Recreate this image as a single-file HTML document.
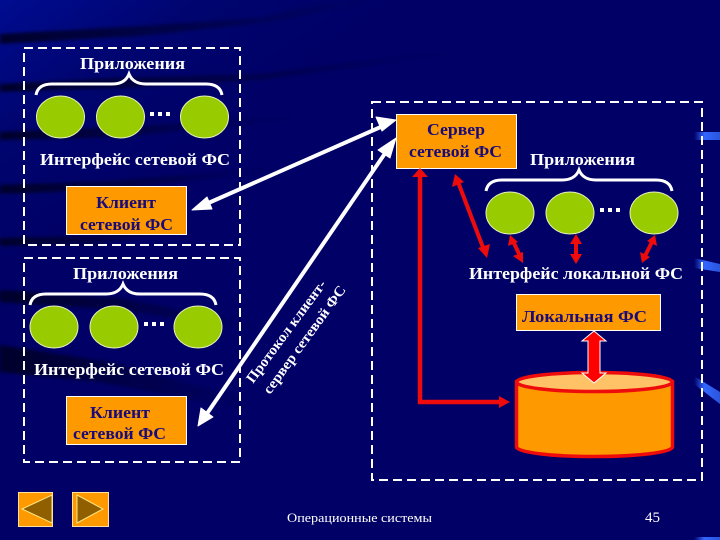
<!DOCTYPE html>
<html><head><meta charset="utf-8">
<style>html,body{margin:0;padding:0;background:#000066}svg{display:block}text{font-family:"Liberation Serif","Noto Serif CJK SC",serif}</style>
</head><body>
<svg width="720" height="540" viewBox="0 0 720 540" xmlns="http://www.w3.org/2000/svg">
<defs>
<linearGradient id="bg" x1="0" y1="0" x2="0.45" y2="0.25"><stop offset="0" stop-color="#000c90"/><stop offset="0.5" stop-color="#00046e"/><stop offset="1" stop-color="#000066"/></linearGradient>
<linearGradient id="dk" x1="0" y1="0" x2="1" y2="0"><stop offset="0" stop-color="#00002a"/><stop offset="1" stop-color="#00002a" stop-opacity="0"/></linearGradient>
<linearGradient id="bl" x1="0" y1="0" x2="1" y2="0"><stop offset="0" stop-color="#3366ff" stop-opacity="0"/><stop offset="0.4" stop-color="#3366ff"/><stop offset="1" stop-color="#2a55dd"/></linearGradient>
<filter id="b" x="-20%" y="-50%" width="140%" height="200%"><feGaussianBlur stdDeviation="1.5"/></filter>
</defs>
<rect width="720" height="540" fill="#000066"/>
<rect width="720" height="270" fill="url(#bg)"/>
<g filter="url(#b)" fill="url(#dk)">
<polygon points="0,34 0,44 140,36 270,22 380,0 340,0 260,18 140,26"/>
<polygon points="0,84 0,92 120,88 260,80 460,52 460,50 260,74 120,78"/>
<polygon points="0,132 0,140 120,137 300,118 300,116 120,127"/>
<polygon points="0,185 0,194 110,190 280,170 280,168 110,181"/>
<polygon points="0,238 0,246 90,244 200,230 200,228 90,236"/>
<polygon points="0,290 0,302 120,310 260,330 260,325 120,298"/>
<polygon points="0,345 0,372 100,382 250,410 250,400 110,362"/>
</g>
<g fill="url(#bl)">
<rect x="694" y="132" width="26" height="8"/>
<polygon points="694,258 720,264 720,272 694,268"/>
<polygon points="694,376 720,392 720,404 694,384"/>
<rect x="694" y="537" width="26" height="3"/>
</g>

<g fill="none" stroke="#fff" stroke-width="2" stroke-dasharray="9 5">
<rect x="24" y="48" width="216" height="197"/>
<rect x="24" y="258" width="216" height="204"/>
<rect x="372" y="102" width="330" height="378"/>
</g>

<g fill="#99cc00" stroke="#e8f0c0" stroke-width="1">
<ellipse cx="60.500" cy="117" rx="24" ry="21"/><ellipse cx="120.500" cy="117" rx="24" ry="21"/><ellipse cx="204.500" cy="117" rx="24" ry="21"/>
<ellipse cx="54" cy="327" rx="24" ry="21"/><ellipse cx="114" cy="327" rx="24" ry="21"/><ellipse cx="198" cy="327" rx="24" ry="21"/>
<ellipse cx="510" cy="213" rx="24" ry="21"/><ellipse cx="570" cy="213" rx="24" ry="21"/><ellipse cx="654" cy="213" rx="24" ry="21"/>
</g>
<g fill="#fff">
<rect x="150" y="112" width="4" height="4"/><rect x="158" y="112" width="4" height="4"/><rect x="166" y="112" width="4" height="4"/>
<rect x="144" y="322" width="4" height="4"/><rect x="152" y="322" width="4" height="4"/><rect x="160" y="322" width="4" height="4"/>
<rect x="600" y="208" width="4" height="4"/><rect x="608" y="208" width="4" height="4"/><rect x="616" y="208" width="4" height="4"/>
</g>

<g fill="none" stroke="#fff" stroke-width="3">
<path d="M36 95 Q38 84 52 84 L112 84 Q125 84 129 74 Q133 84 146 84 L206 84 Q220 84 222 95"/>
<path d="M30 305 Q32 294 46 294 L106 294 Q119 294 123 284 Q127 294 140 294 L200 294 Q214 294 216 305"/>
<path d="M486 191 Q488 180 502 180 L562 180 Q575 180 579 170 Q583 180 596 180 L656 180 Q670 180 672 191"/>
</g>

<g fill="#ff9900" stroke="#fff" stroke-width="1">
<rect x="66.500" y="186.500" width="120" height="48"/>
<rect x="66.500" y="396.500" width="120" height="48"/>
<rect x="396.500" y="114.500" width="120" height="54"/>
<rect x="516.500" y="294.500" width="144" height="36"/>
</g>

<!-- cylinder -->
<path d="M516.500 382 L516.500 447 A78 9.500 0 0 0 672.500 447 L672.500 382 Z" fill="#ff9900" stroke="#ee0b0b" stroke-width="3.500"/>
<ellipse cx="594.500" cy="382" rx="78" ry="9.500" fill="#ffc266" stroke="#ee0b0b" stroke-width="3.500"/>

<!-- white arrows -->
<g fill="#fff" stroke="#fff" stroke-linejoin="round">
<line x1="205" y1="204.500" x2="384" y2="125.500" stroke-width="4"/>
<polygon points="192,210 207,197 212,209" stroke-width="1"/>
<polygon points="396,120 376,117 382,131" stroke-width="1"/>
<line x1="206" y1="415" x2="388" y2="149" stroke-width="4"/>
<polygon points="198,426 201,408 213,417" stroke-width="1"/>
<polygon points="396,138 378,150 390,158" stroke-width="1"/>
</g>

<!-- red arrows -->
<g stroke="#ee0b0b" fill="#ee0b0b" stroke-width="4">
<path d="M420 172 L420 402 L502 402" fill="none" stroke-width="4.500"/>
<polygon points="420,168 412,177 428,177" stroke-width="0"/>
<polygon points="510,402 499,396 499,408" stroke-width="0"/>
<line x1="458" y1="182" x2="484" y2="250"/>
<polygon points="455,174 452,187 464,182" stroke-width="0"/>
<polygon points="487,258 478,248 490,244" stroke-width="0"/>
<line x1="513" y1="241" x2="520" y2="256"/>
<polygon points="510,235 508,246 518,242" stroke-width="0"/>
<polygon points="523,263 513,256 523,252" stroke-width="0"/>
<line x1="576" y1="241" x2="576" y2="257"/>
<polygon points="576,234 570,244 582,244" stroke-width="0"/>
<polygon points="576,264 570,254 582,254" stroke-width="0"/>
<line x1="652" y1="242" x2="645" y2="256"/>
<polygon points="655,235 647,241 657,246" stroke-width="0"/>
<polygon points="642,263 640,252 650,257" stroke-width="0"/>
</g>
<polygon points="594,331 606,341 600,341 600,373 606,373 594,383 582,373 588,373 588,341 582,341" fill="#f00" stroke="#fff" stroke-width="1"/>

<!-- nav buttons -->
<rect x="18.500" y="492.500" width="34" height="34" fill="#ff9900" stroke="#ffe0a0"/>
<polygon points="22,509 52,495 52,523" fill="#8f5f00" stroke="#ffe680" stroke-width="1"/>
<rect x="72.500" y="492.500" width="36" height="34" fill="#ff9900" stroke="#ffe0a0"/>
<polygon points="77,495 103,509 77,523" fill="#8f5f00" stroke="#ffe680" stroke-width="1"/>

<!-- labels -->
<g fill="#fff" font-weight="bold" font-size="16.500">
<text x="80" y="69" textLength="105" lengthAdjust="spacingAndGlyphs">Приложения</text>
<text x="40" y="165" textLength="190" lengthAdjust="spacingAndGlyphs">Интерфейс сетевой ФС</text>
<text x="73" y="279" textLength="105" lengthAdjust="spacingAndGlyphs">Приложения</text>
<text x="34" y="375" textLength="190" lengthAdjust="spacingAndGlyphs">Интерфейс сетевой ФС</text>
<text x="530" y="165" textLength="105" lengthAdjust="spacingAndGlyphs">Приложения</text>
<text x="469" y="279" textLength="214" lengthAdjust="spacingAndGlyphs">Интерфейс локальной ФС</text>
</g>
<g fill="#180a7a" font-weight="bold" font-size="16.500">
<text x="96" y="208" textLength="60" lengthAdjust="spacingAndGlyphs">Клиент</text>
<text x="80" y="230" textLength="93" lengthAdjust="spacingAndGlyphs">сетевой ФС</text>
<text x="90" y="418" textLength="60" lengthAdjust="spacingAndGlyphs">Клиент</text>
<text x="73" y="439" textLength="93" lengthAdjust="spacingAndGlyphs">сетевой ФС</text>
<text x="427" y="135" textLength="58" lengthAdjust="spacingAndGlyphs">Сервер</text>
<text x="409" y="157" textLength="93" lengthAdjust="spacingAndGlyphs">сетевой ФС</text>
<text x="522" y="322" textLength="125" lengthAdjust="spacingAndGlyphs">Локальная ФС</text>
</g>
<g fill="#fff" font-weight="bold" font-size="14.500">
<text transform="translate(253,384) rotate(-53.500)" textLength="124" lengthAdjust="spacingAndGlyphs">Протокол клиент-</text>
<text transform="translate(270,395) rotate(-54)" textLength="130" lengthAdjust="spacingAndGlyphs">сервер сетевой ФС</text>
</g>
<g fill="#fff" font-size="13">
<text x="287" y="522" textLength="145" lengthAdjust="spacingAndGlyphs">Операционные системы</text>
<text x="645" y="522" font-size="15">45</text>
</g>
</svg>
</body></html>
